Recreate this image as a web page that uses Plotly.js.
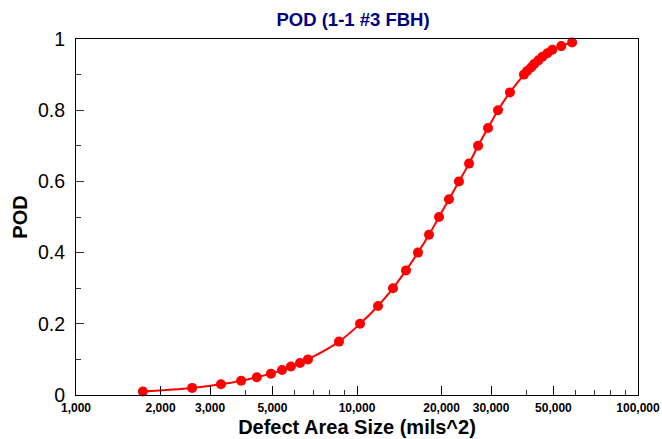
<!DOCTYPE html>
<html>
<head>
<meta charset="utf-8">
<script src="https://cdn.plot.ly/plotly-3.0.1.min.js"></script>
<style>html,body{margin:0;padding:0;background:#fff;}#chart{width:662px;height:439px;}</style>
</head>
<body>
<div id="chart"></div>
<script>
// Defect area size (mils^2)
const defectSize = [1730, 2590, 3280, 3870, 4400, 4940, 5410, 5820, 6270, 6690,
  8630, 10250, 11880, 13430, 14940, 16480, 18040, 19580, 21250, 23060,
  25040, 26970, 29260, 31760, 35020, 39270, 40310, 41660, 42720, 44220,
  45690, 47590, 49560, 53320, 58280];
// Probability of detection
const podValues = [0.01, 0.02, 0.03, 0.04, 0.05, 0.06, 0.07, 0.08, 0.09, 0.10,
  0.15, 0.20, 0.25, 0.30, 0.35, 0.40, 0.45, 0.50, 0.55, 0.60,
  0.65, 0.70, 0.75, 0.80, 0.85, 0.90, 0.91, 0.92, 0.93, 0.94,
  0.95, 0.96, 0.97, 0.98, 0.99];

const xTickVals = [1000, 2000, 3000, 5000, 10000, 20000, 30000, 50000, 100000];
const xTickText = ['1,000', '2,000', '3,000', '5,000', '10,000', '20,000', '30,000', '50,000', '100,000'];
const xMinorVals = [4000, 6000, 7000, 8000, 9000, 40000, 60000, 70000, 80000, 90000];
const yTickVals = [0, 0.2, 0.4, 0.6, 0.8, 1];
const yTickText = ['0', '0.2', '0.4', '0.6', '0.8', '1'];

const FONT = 'Liberation Sans, Arial, sans-serif';

const trace = {
  x: defectSize,
  y: podValues,
  type: 'scatter',
  mode: 'lines+markers',
  line: {color: '#ff0000', width: 2, shape: 'spline'},
  marker: {color: '#ff0000', size: 10},
  cliponaxis: false,
  hoverinfo: 'x+y'
};

const layout = {
  width: 662,
  height: 439,
  margin: {l: 76, r: 24, t: 39, b: 44, pad: 0},
  paper_bgcolor: '#ffffff',
  plot_bgcolor: '#ffffff',
  showlegend: false,
  font: {family: FONT, color: '#000000'},
  title: {
    text: 'POD (1-1 #3 FBH)',
    font: {family: FONT, size: 18.5, color: '#000080', weight: 'bold'},
    x: 0.493, xanchor: 'center', xref: 'paper',
    y: 1 - 20 / 439, yanchor: 'middle', yref: 'container'
  },
  xaxis: {
    type: 'log',
    range: [3, 5],
    tickmode: 'array',
    tickvals: xTickVals,
    ticktext: xTickText,
    ticks: 'inside',
    ticklen: 9,
    tickwidth: 1,
    tickcolor: '#000000',
    tickfont: {family: FONT, size: 12, weight: 'bold', color: '#000000'},
    ticklabelstandoff: 2,
    showline: true,
    linecolor: '#000000',
    linewidth: 1,
    mirror: true,
    showgrid: false,
    zeroline: false,
    minor: {tickmode: 'array', tickvals: xMinorVals, ticks: 'inside', ticklen: 5, tickcolor: '#333333', showgrid: false},
    title: {text: 'Defect Area Size (mils^2)', font: {family: FONT, size: 20, weight: 'bold', color: '#000000'}, standoff: 5},
    automargin: false
  },
  yaxis: {
    range: [0, 1],
    tickmode: 'array',
    tickvals: yTickVals,
    ticktext: yTickText,
    ticks: 'inside',
    ticklen: 8,
    tickwidth: 1,
    tickcolor: '#333333',
    tickfont: {family: FONT, size: 19.5, color: '#000000'},
    ticklabelstandoff: 6,
    showline: true,
    linecolor: '#000000',
    linewidth: 1,
    mirror: true,
    showgrid: false,
    zeroline: false,
    minor: {dtick: 0.1, ticks: 'inside', ticklen: 5, tickcolor: '#333333', showgrid: false},
    title: {text: 'POD', font: {family: FONT, size: 20, weight: 'bold', color: '#000000'}, standoff: 4},
    automargin: false
  }
};

Plotly.newPlot('chart', [trace], layout, {displayModeBar: false, staticPlot: true});
</script>
</body>
</html>
